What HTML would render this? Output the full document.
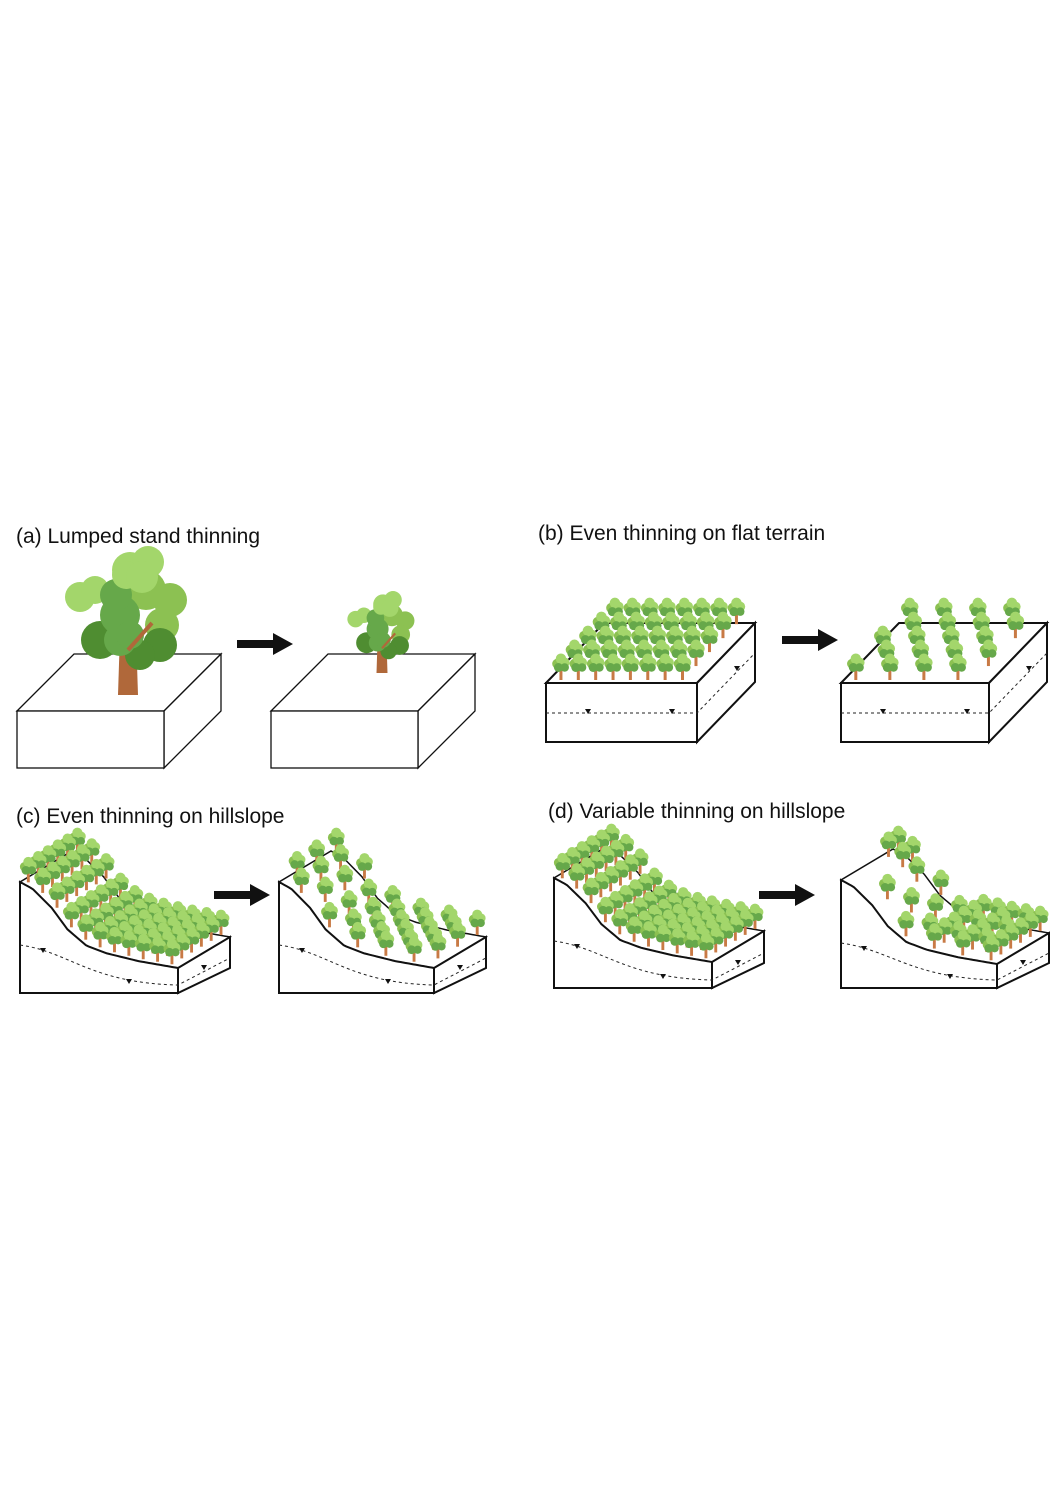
<!DOCTYPE html>
<html><head><meta charset="utf-8"><style>
html,body{margin:0;padding:0;background:#fff;}
svg{display:block;}
text{font-family:"Liberation Sans",sans-serif;font-size:21px;fill:#111;}
</style></head><body>
<svg id="fig" width="1050" height="1500" viewBox="0 0 1050 1500" xmlns="http://www.w3.org/2000/svg">
<text x="16" y="543">(a) Lumped stand thinning</text>
<text x="538" y="540">(b) Even thinning on flat terrain</text>
<text x="16" y="823">(c) Even thinning on hillslope</text>
<text x="548" y="818">(d) Variable thinning on hillslope</text>
<g id="layer"></g>
</svg>
<script>
const NS="http://www.w3.org/2000/svg";
const layer=document.getElementById('layer');
function el(tag,attrs,name,parent){
  const e=document.createElementNS(NS,tag);
  for(const k in attrs)e.setAttribute(k,attrs[k]);
  
  
  (parent||layer).appendChild(e);return e;
}
const G=['#a3d66b','#8cc152','#66a84a','#4f8d31'];
function bigTree(cx,baseY,s,g){
  el('path',{d:`M${cx-10*s},${baseY} L${cx-8*s},${baseY-62*s} L${cx+8*s},${baseY-62*s} L${cx+10*s},${baseY} Z`,fill:'#b0683a'},'tree-trunk',g);
  const c=[[-48,-98,15,0],[-33,-105,14,0],[2,-125,18,0],[20,-133,16,0],[42,-95,17,1],[34,-70,17,1],[18,-105,20,1],
           [-28,-55,19,3],[32,-50,17,3],[12,-40,15,3],[-8,-80,20,2],[-8,-55,16,2],[-12,-100,16,2],[2,-60,14,2],[-2,-120,14,0],[14,-118,16,0]];
  c.forEach(p=>el('circle',{cx:cx+p[0]*s,cy:baseY+p[1]*s,r:p[2]*s,fill:G[p[3]]},'canopy-blob',g));
  el('line',{x1:cx,y1:baseY-45*s,x2:cx+24*s,y2:baseY-72*s,stroke:'#b0683a','stroke-width':4*s},'tree-branch',g);
}
function tree(x,y,s,g){
  const t=el('g',{},'tree',g);
  el('rect',{x:x-1.2*s,y:y-11*s,width:2.4*s,height:11*s,fill:'#c87a45'},'tree-trunk',t);
  [[-3,-13,4,1],[3,-14,4,0],[0,-17,4.2,0],[-2,-10,3.6,2],[3,-10,3.4,2]].forEach(p=>
    el('circle',{cx:x+p[0]*s,cy:y+p[1]*s,r:p[2]*s,fill:G[p[3]]},'canopy-blob',t));
}
function arrow(x,y,name){
  el('path',{d:`M${x},${y-4} L${x+36},${y-4} L${x+36},${y-11} L${x+56},${y} L${x+36},${y+11} L${x+36},${y+4} L${x},${y+4} Z`,fill:'#111'},name);
}
const ST={fill:'#fff',stroke:'#111','stroke-width':1.3};
function plainBox(x0,name){
  const g=el('g',{},name);
  el('path',{d:`M${x0},711 L${x0+57},654 L${x0+204},654 L${x0+147},711 Z`,...ST},'box-top',g);
  el('path',{d:`M${x0+147},711 L${x0+204},654 L${x0+204},711 L${x0+147},768 Z`,...ST},'box-side',g);
  el('rect',{x:x0,y:711,width:147,height:57,...ST},'box-front',g);
  return g;
}
const ga=plainBox(17,'panel-a-before');
bigTree(128,695,1,ga);
arrow(237,644,'arrow-a');
const gb2=plainBox(271,'panel-a-after');
bigTree(382,673,0.55,gb2);

function flatBox(x0,W,keep,name){
  const g=el('g',{},name);
  const D=[58,-60],y0=683,H=59;
  el('path',{d:`M${x0},${y0} L${x0+D[0]},${y0+D[1]} L${x0+W+D[0]},${y0+D[1]} L${x0+W},${y0} Z`,...ST,'stroke-width':2},'box-top',g);
  for(let r=0;r<5;r++)for(let c=0;c<8;c++){
    if(!keep(r,c))continue;
    const d=(4-r)/4.3, u=(c+0.4)/8;
    tree(x0+8+u*W*0.92+d*D[0], y0-3+d*D[1], 1.25, g);
  }
  el('path',{d:`M${x0+W},${y0} L${x0+W+D[0]},${y0+D[1]} L${x0+W+D[0]},${y0+D[1]+H} L${x0+W},${y0+H} Z`,...ST,'stroke-width':2},'box-side',g);
  el('rect',{x:x0,y:y0,width:W,height:H,...ST,'stroke-width':2},'box-front',g);
  el('path',{d:`M${x0},${y0+30} L${x0+W},${y0+30} L${x0+W+D[0]},${y0+30+D[1]}`,fill:'none',stroke:'#222','stroke-dasharray':'3,3'},'water-table',g);
  [[x0+42,y0+26],[x0+126,y0+26],[x0+W+40,y0-17]].forEach(p=>el('path',{d:`M${p[0]-3},${p[1]} L${p[0]+3},${p[1]} L${p[0]},${p[1]+5} Z`,fill:'#111'},'water-marker',g));
}
flatBox(546,151,()=>true,'panel-b-before');
arrow(782,640,'arrow-b');
flatBox(841,148,(r,c)=>(r+c)%2===0||r===4&&c%2===0,'panel-b-after');

const SHAPE=[[0,0],[0.08,0.08],[0.2,0.3],[0.3,0.55],[0.42,0.74],[0.55,0.83],[0.75,0.92],[1,1]];
function shapeAt(u){for(let i=1;i<SHAPE.length;i++){if(u<=SHAPE[i][0]){const a=SHAPE[i-1],b=SHAPE[i];return a[1]+(b[1]-a[1])*(u-a[0])/(b[0]-a[0]);}}return 1;}
function hill(x0,W,top,bot,drop,keep,name){
  const g=el('g',{},name);
  const D=[52,-31];
  const fy=u=>top+drop*shapeAt(u);
  let front='';for(let i=0;i<=60;i++){const u=i/60;front+=(i?'L':'M')+(x0+W*u)+','+fy(u);}
  let back='';for(let i=60;i>=0;i--){const u=i/60;back+='L'+(x0+W*u+D[0])+','+(fy(u)+D[1]);}
  el('path',{d:front+back+'Z',fill:'#fff',stroke:'#111','stroke-width':1.5},'hill-top',g);
  for(let r=0;r<6;r++)for(let c=0;c<11;c++){
    if(!keep(r,c))continue;
    const d=(5-r)/5.3,u=(c+0.3)/11;
    tree(x0+u*W+d*D[0]+4, fy(u)+d*D[1]-2, 1.2, g);
  }
  el('path',{d:`M${x0},${top} ${front.slice(front.indexOf('L'))} L${x0+W},${bot} L${x0},${bot} Z`,...ST,'stroke-width':2},'hill-front',g);
  const ye=fy(1);
  el('path',{d:`M${x0+W},${ye} L${x0+W+D[0]},${ye+D[1]} L${x0+W+D[0]},${bot+D[1]+6} L${x0+W},${bot} Z`,...ST,'stroke-width':2},'hill-side',g);
  el('path',{d:`M${x0},${top+63} C${x0+50},${top+70} ${x0+70},${bot-10} ${x0+W},${bot-8} L${x0+W+D[0]},${bot-8+D[1]+4}`,fill:'none',stroke:'#222','stroke-dasharray':'3,3'},'water-table',g);
  [[x0+23,top+66],[x0+109,bot-14],[x0+W+26,bot-28]].forEach(p=>el('path',{d:`M${p[0]-3},${p[1]} L${p[0]+3},${p[1]} L${p[0]},${p[1]+5} Z`,fill:'#111'},'water-marker',g));
}
hill(20,158,882,993,86,()=>true,'panel-c-before');
arrow(214,895,'arrow-c');
hill(279,155,882,993,86,(r,c)=>(r+c)%2===0,'panel-c-after');
hill(554,158,878,988,84,()=>true,'panel-d-before');
arrow(759,895,'arrow-d');
hill(841,156,880,988,84,(r,c)=>c>=6?(r%2===0||c%2===0):(c<2?r<2:(r+c)%3===0),'panel-d-after');
</script>
</body></html>
